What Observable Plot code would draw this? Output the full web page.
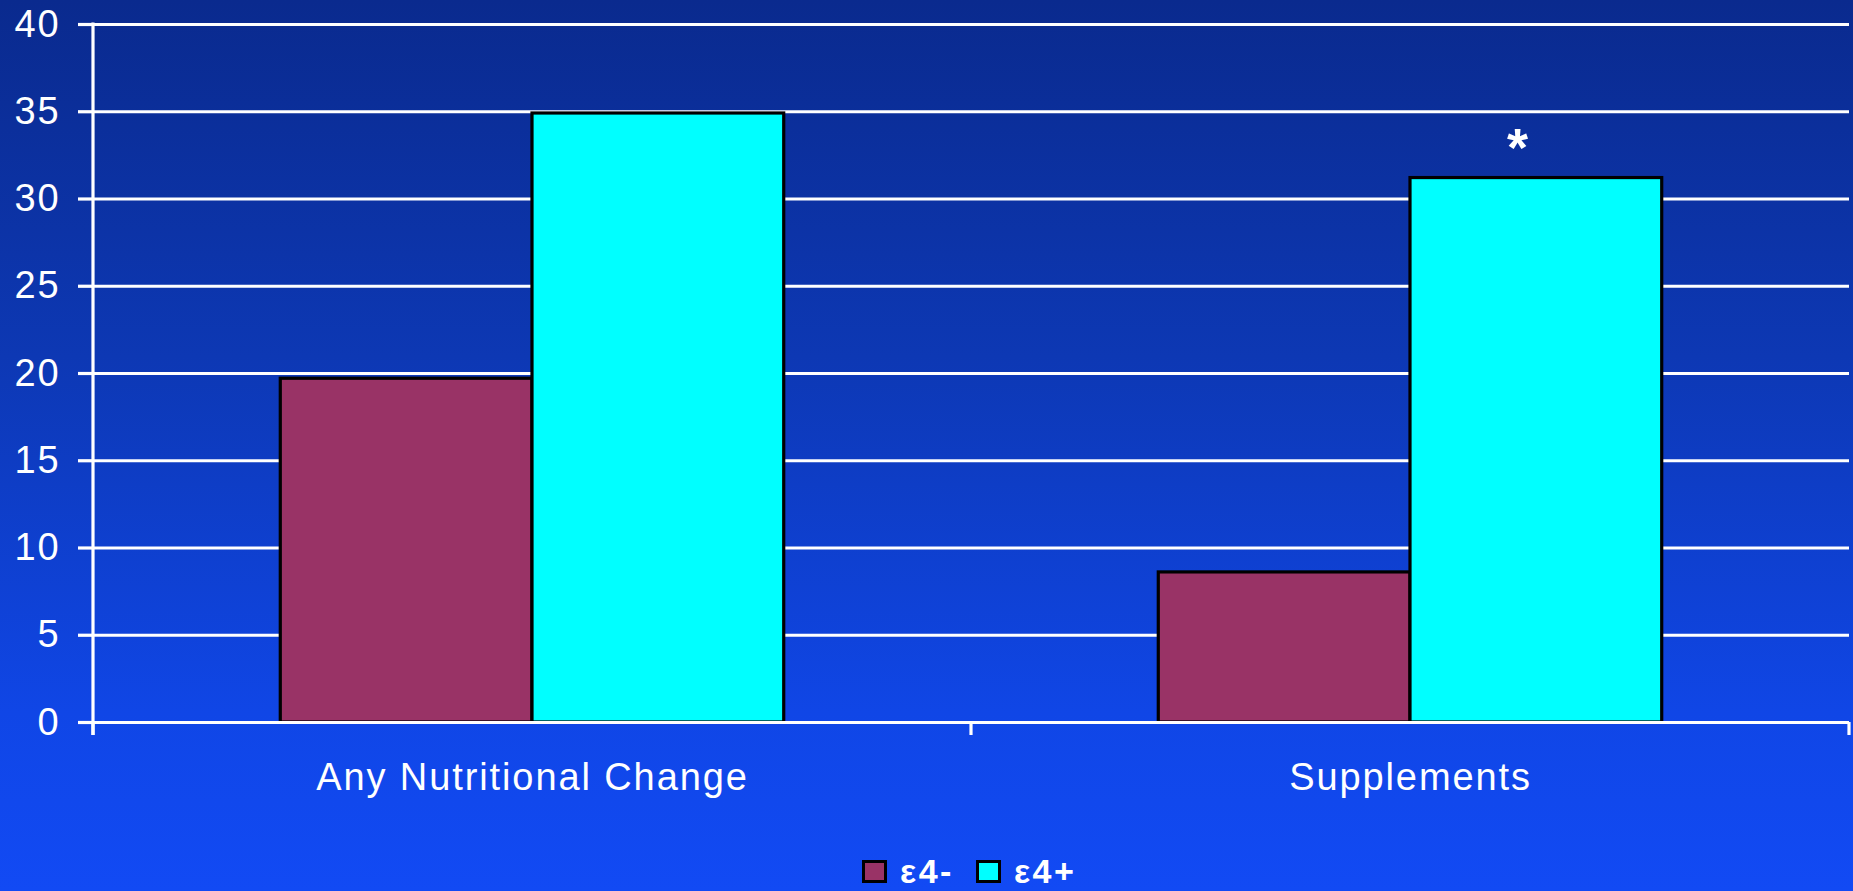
<!DOCTYPE html>
<html>
<head>
<meta charset="utf-8">
<script src="https://cdn.jsdelivr.net/npm/d3@7"></script>
<script src="https://cdn.jsdelivr.net/npm/@observablehq/plot@0.6"></script>
<style>
  html, body { margin: 0; padding: 0; }
  body {
    width: 1853px; height: 891px; overflow: hidden; position: relative;
    background: linear-gradient(to bottom, #0a2a8e 0%, #0d38b4 40%, #1046e6 80%, #124af4 100%);
    font-family: "Liberation Sans", Arial, sans-serif;
  }
  #chart svg { display: block; }
  #legend {
    position: absolute; left: 862px; top: 852px; height: 38px;
    display: flex; align-items: center; color: white;
    font-size: 34px; font-weight: bold; line-height: 38px; letter-spacing: 2.5px;
  }
  #legend .sw { width: 25px; height: 23px; box-sizing: border-box; border: 3px solid #000; margin-right: 13px; }
  #legend .item { display: flex; align-items: center; margin-right: 22px; }
</style>
</head>
<body>
<div id="chart"></div>
<div id="legend"></div>
<script>
const categories = ["Any Nutritional Change", "Supplements"];
const series = ["ε4-", "ε4+"];
const e4neg = [19.7, 8.6];
const e4pos = [34.9, 31.2];
const yTicks = [0, 5, 10, 15, 20, 25, 30, 35, 40];
const colors = ["#993366", "#00ffff"];
const annotations = [{category: "Supplements", series: "ε4+", value: 31.2, label: "*"}];

const data = [];
categories.forEach((c, i) => {
  data.push({category: c, series: series[0], value: e4neg[i]});
  data.push({category: c, series: series[1], value: e4pos[i]});
});

const plot = Plot.plot({
  width: 1853,
  height: 850,
  marginTop: 24,
  marginBottom: 128,
  marginLeft: 93,
  marginRight: 4,
  style: {background: "transparent", color: "white", fontFamily: "'Liberation Sans', Arial, sans-serif", fontSize: "38px", letterSpacing: "1.9px", overflow: "visible"},
  fx: {domain: categories, paddingInner: 0, paddingOuter: 0, round: false, axis: null, label: null},
  x: {domain: series, paddingInner: 0, paddingOuter: 0.744, round: false, axis: null, label: null},
  y: {domain: [0, 40], ticks: yTicks, label: null, axis: null},
  color: {domain: series, range: colors},
  marks: [
    Plot.gridY(yTicks, {stroke: "white", strokeOpacity: 1, strokeWidth: 3.2}),
    Plot.barY(data, {fx: "category", x: "series", y: "value", fill: "series", stroke: "black", strokeWidth: 3.2}),
    Plot.ruleY([0], {stroke: "white", strokeWidth: 3.2}),
    Plot.axisY({ticks: yTicks, tickSize: 15, tickPadding: 18, stroke: "white", strokeWidth: 3.2, fill: "white", fontSize: 38, label: null}),
    Plot.axisFx({anchor: "bottom", tickSize: 0, tickPadding: 41, fill: "white", fontSize: 38, label: null}),
    Plot.text(annotations, {fx: "category", x: "series", y: "value", text: "label", dy: -29, dx: -18, fill: "white", fontSize: 54, fontWeight: "bold"})
  ]
});

document.getElementById("chart").appendChild(plot);

// Excel-style axis line and category boundary ticks, placed via the plot's own scales
const fxs = plot.scale("fx");
const ys = plot.scale("y");
const band = d3.scaleBand(fxs.domain, fxs.range).paddingInner(fxs.paddingInner || 0).paddingOuter(fxs.paddingOuter || 0);
const yLin = d3.scaleLinear(ys.domain, ys.range);
const y0 = yLin(0), yTop = yLin(d3.max(yTicks));
const bounds = fxs.domain.map(d => band(d)).concat([band(fxs.domain[fxs.domain.length - 1]) + band.bandwidth()]);
const svg = d3.select(plot);
const g = svg.append("g").attr("stroke", "white").attr("stroke-width", 3.2);
g.append("line").attr("x1", bounds[0]).attr("x2", bounds[0]).attr("y1", yTop - 1.5).attr("y2", y0 + 13);
bounds.forEach(b => {
  g.append("line").attr("x1", b).attr("x2", b).attr("y1", y0).attr("y2", y0 + 13);
});

// Legend
const legend = document.getElementById("legend");
series.forEach((s, i) => {
  const item = document.createElement("div");
  item.className = "item";
  const sw = document.createElement("div");
  sw.className = "sw";
  sw.style.background = colors[i];
  const t = document.createElement("span");
  t.textContent = s;
  item.appendChild(sw);
  item.appendChild(t);
  legend.appendChild(item);
});
</script>
</body>
</html>
